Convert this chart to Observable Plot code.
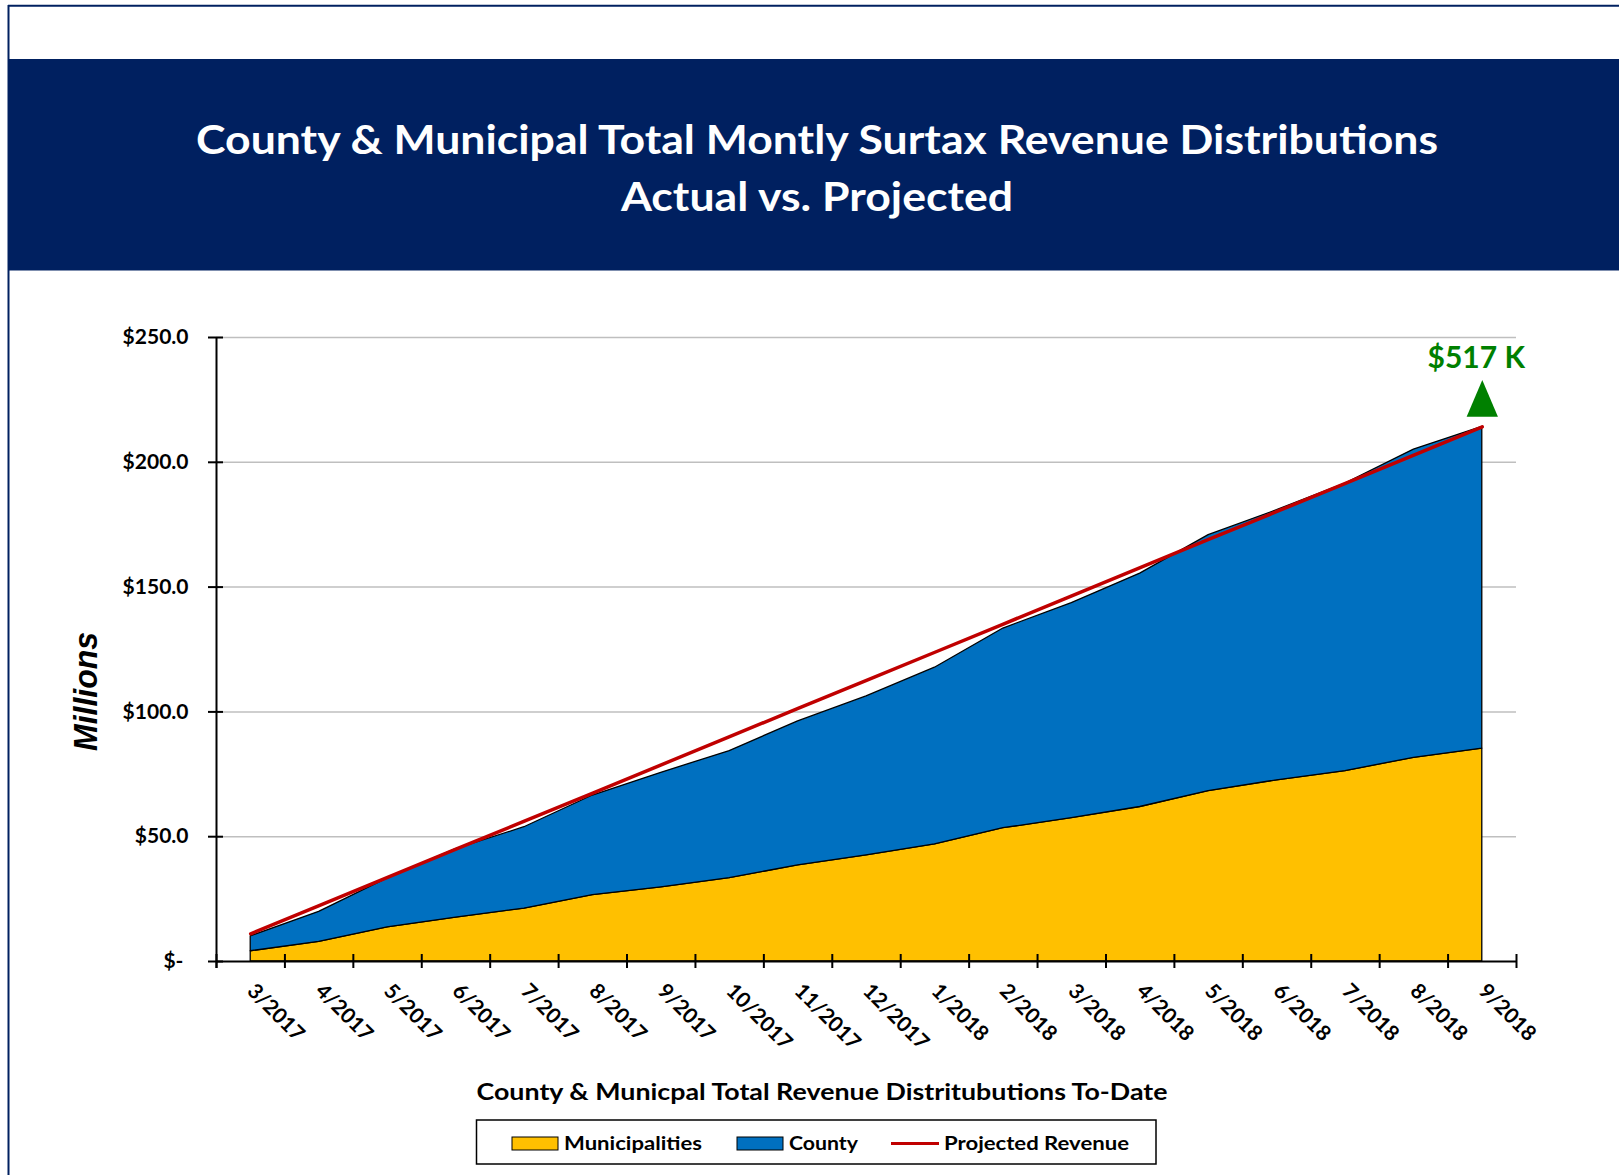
<!DOCTYPE html>
<html><head><meta charset="utf-8">
<script src="https://cdn.jsdelivr.net/npm/d3@7"></script>
<script src="https://cdn.jsdelivr.net/npm/@observablehq/plot@0.6"></script>
<style>
html,body{margin:0;padding:0;background:#fff;overflow:hidden;}
#page{position:relative;width:1619px;height:1175px;}
#chart{position:absolute;left:0;top:300px;}
#overlay{position:absolute;left:0;top:0;z-index:2;pointer-events:none;}
</style></head><body>
<div id="page"><div id="chart"></div><svg id="overlay" width="1619" height="1175"></svg></div>
<script>
// ---- data ----
const months = ["3/2017","4/2017","5/2017","6/2017","7/2017","8/2017","9/2017","10/2017","11/2017","12/2017",
                "1/2018","2/2018","3/2018","4/2018","5/2018","6/2018","7/2018","8/2018","9/2018"];
const seriesNames = ["Municipalities", "County"];
const municipalities = [4.1, 7.9, 13.7, 17.6, 21.2, 26.6, 29.7, 33.4, 38.5, 42.5, 46.9, 53.4, 57.4, 61.9, 68.3, 72.6, 76.3, 81.6, 85.3];
const county = [6.0, 12.0, 19.6, 27.4, 32.6, 39.9, 45.9, 50.9, 57.7, 63.7, 70.8, 80.0, 86.2, 93.5, 102.5, 108.2, 115.2, 123.5, 128.9];
const projectedName = "Projected Revenue";
const projected = [11.1, 22.4, 33.7, 45.0, 56.2, 67.5, 78.8, 90.1, 101.4, 112.6, 123.9, 135.2, 146.5, 157.8, 169.1, 180.3, 191.6, 202.9, 214.2];
const yTicks = [0, 50, 100, 150, 200, 250];
const titleLines = ["County & Municipal Total Montly Surtax Revenue Distributions", "Actual vs. Projected"];
const xTitle = "County & Municpal Total Revenue Distritubutions To-Date";
const yTitle = "Millions";
const annotation = "$517 K";

// ---- styles ----
const seriesColors = ["#FFC000", "#0070C0"];
const projColor = "#C00000";
const navy = "#002060";
const green = "#008000";
const FONT = "Lato, 'Open Sans', sans-serif";

// ---- table for the library ----
const seriesValues = [municipalities, county];
const rows = [];
seriesNames.forEach((s, k) => seriesValues[k].forEach((v, i) => rows.push({i, series: s, value: v})));
const idx = months.map((_, i) => i);
const totals = municipalities.map((m, i) => m + county[i]);
const last = months.length - 1;
const xDomain = [-0.5, months.length - 0.5];
const boundaries = d3.range(months.length + 1).map(k => k + xDomain[0]);

const triangleSymbol = {
  draw(ctx, size) {
    const r = Math.sqrt(size / Math.PI);
    const h = 2.7 * r, w = 2.3 * r;
    ctx.moveTo(0, -h / 2);
    ctx.lineTo(w / 2, h / 2);
    ctx.lineTo(-w / 2, h / 2);
    ctx.closePath();
  }
};

const chart = Plot.plot({
  width: 1619, height: 760,
  marginLeft: 216, marginRight: 103, marginTop: 37, marginBottom: 99,
  style: {fontFamily: FONT, fontWeight: "bold", fontSize: "21px", color: "black", background: "transparent", overflow: "visible"},
  x: {type: "linear", domain: xDomain, label: null},
  y: {domain: [0, 250], label: null},
  color: {domain: seriesNames, range: seriesColors},
  marks: [
    Plot.ruleY(yTicks.filter(d => d > 0), {stroke: "#BFBFBF", strokeWidth: 1.5}),
    Plot.areaY(rows, {x: "i", y: "value", fill: "series", stroke: "black", strokeWidth: 1.3}),
    Plot.lineY(projected, {x: (d, i) => i, y: d => d, stroke: projColor, strokeWidth: 3.5}),
    Plot.ruleX([xDomain[0]], {stroke: "black", strokeWidth: 2, insetBottom: -7}),
    Plot.ruleY([0], {stroke: "black", strokeWidth: 2}),
    Plot.ruleY(yTicks, {x1: xDomain[0], x2: xDomain[0], insetLeft: -8, insetRight: -7, stroke: "black", strokeWidth: 2}),
    Plot.ruleX(boundaries, {y1: 0, y2: 0, insetTop: -7, insetBottom: -7, stroke: "black", strokeWidth: 2}),
    Plot.axisY(yTicks, {tickSize: 0, tickPadding: 28, tickFormat: d => d === 0 ? "$-\u00a0" : "$" + d.toFixed(1)}),
    Plot.axisX(idx, {tickSize: 0, tickPadding: 26, tickRotate: 45, tickFormat: i => months[i]}),
    Plot.dot([last], {x: d => d, y: d => totals[d], symbol: triangleSymbol, r: 13.6, fill: green, stroke: "none", dy: -28.5}),
    Plot.text([last], {x: d => d, y: d => totals[d], text: () => annotation, fill: green, fontSize: 30, fontWeight: "bold",
      textAnchor: "middle", lineAnchor: "bottom", dx: -6, dy: -58.7})
  ]
});
document.getElementById("chart").appendChild(chart);

// ---- overlay: frame, title bar, axis titles, legend ----
const ov = d3.select("#overlay");
ov.append("line").attr("x1", 8).attr("x2", 1619).attr("y1", 5.8).attr("y2", 5.8).attr("stroke", navy).attr("stroke-width", 2);
ov.append("line").attr("x1", 8.5).attr("x2", 8.5).attr("y1", 5).attr("y2", 1175).attr("stroke", navy).attr("stroke-width", 2);
ov.append("rect").attr("x", 8).attr("y", 59).attr("width", 1611).attr("height", 211.5).attr("fill", navy);
const titleSpecs = [{y: 154, len: 1242}, {y: 210.5, len: 392}];
titleLines.forEach((t, k) => {
  ov.append("text").text(t).attr("x", 817).attr("y", titleSpecs[k].y).attr("text-anchor", "middle")
    .attr("font-family", FONT).attr("font-weight", "bold").attr("font-size", 41).attr("fill", "white")
    .attr("textLength", titleSpecs[k].len).attr("lengthAdjust", "spacingAndGlyphs");
});
ov.append("text").text(yTitle).attr("transform", "translate(97,691.5) rotate(-90)").attr("text-anchor", "middle")
  .attr("font-family", "'Liberation Sans', Arial, sans-serif").attr("font-weight", "bold").attr("font-style", "italic")
  .attr("font-size", 33).attr("fill", "black").attr("textLength", 119).attr("lengthAdjust", "spacingAndGlyphs");
ov.append("text").text(xTitle).attr("x", 822).attr("y", 1100).attr("text-anchor", "middle")
  .attr("font-family", FONT).attr("font-weight", "bold").attr("font-size", 22).attr("fill", "black")
  .attr("textLength", 691).attr("lengthAdjust", "spacingAndGlyphs");

// legend
ov.append("rect").attr("x", 476.5).attr("y", 1120).attr("width", 679.5).attr("height", 44)
  .attr("fill", "white").attr("stroke", "black").attr("stroke-width", 1.5);
const legendItems = [
  {name: seriesNames[0], color: seriesColors[0], kind: "swatch", x: 512, tx: 564, len: 138},
  {name: seriesNames[1], color: seriesColors[1], kind: "swatch", x: 737, tx: 789, len: 69},
  {name: projectedName, color: projColor, kind: "line", x: 891, tx: 944, len: 185}
];
legendItems.forEach(it => {
  if (it.kind === "swatch") {
    ov.append("rect").attr("x", it.x).attr("y", 1137).attr("width", 46).attr("height", 13)
      .attr("fill", it.color).attr("stroke", "black").attr("stroke-width", 1);
  } else {
    ov.append("line").attr("x1", it.x).attr("x2", it.x + 48).attr("y1", 1143.5).attr("y2", 1143.5)
      .attr("stroke", it.color).attr("stroke-width", 3);
  }
  ov.append("text").text(it.name).attr("x", it.tx).attr("y", 1150)
    .attr("font-family", FONT).attr("font-weight", "bold").attr("font-size", 19).attr("fill", "black")
    .attr("textLength", it.len).attr("lengthAdjust", "spacingAndGlyphs");
});
</script>
</body></html>
